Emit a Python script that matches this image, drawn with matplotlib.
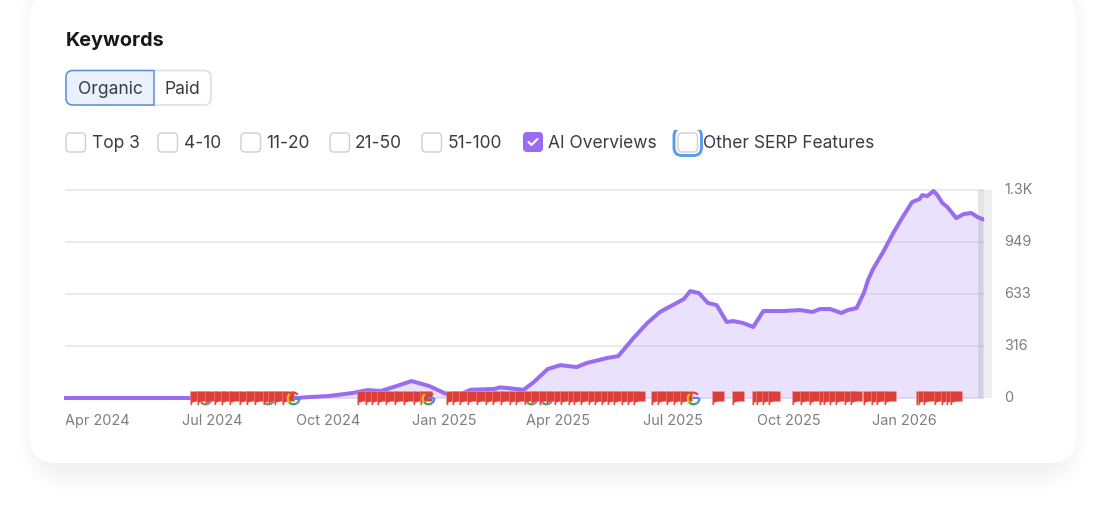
import numpy as np
import pandas as pd
import matplotlib
matplotlib.use('Agg')
import matplotlib.pyplot as plt
from matplotlib.patches import FancyBboxPatch, Rectangle
from matplotlib.path import Path
from matplotlib.transforms import Bbox, ScaledTranslation, TransformedBbox

plt.rcParams['font.family'] = ['Inter', 'DejaVu Sans']

W, H = 1106, 514

# AI Overviews keywords
dates = ['2024-03-07', '2024-09-08', '2024-09-10', '2024-10-01', '2024-10-20', '2024-11-01',
         '2024-11-12', '2024-11-25', '2024-12-06', '2024-12-20', '2025-01-01', '2025-01-08',
         '2025-01-22', '2025-02-10', '2025-02-14', '2025-03-05', '2025-03-13', '2025-03-24',
         '2025-04-03', '2025-04-16', '2025-04-24', '2025-05-10', '2025-05-19', '2025-05-31',
         '2025-06-11', '2025-06-21', '2025-07-10', '2025-07-15', '2025-07-22', '2025-07-29',
         '2025-08-05', '2025-08-13', '2025-08-18', '2025-08-26', '2025-09-03', '2025-09-11',
         '2025-09-27', '2025-10-10', '2025-10-20', '2025-10-26', '2025-11-03', '2025-11-12',
         '2025-11-17', '2025-11-24', '2025-11-30', '2025-12-03', '2025-12-07', '2025-12-15',
         '2025-12-23', '2025-12-29', '2026-01-07', '2026-01-13', '2026-01-15', '2026-01-19',
         '2026-01-24', '2026-01-27', '2026-01-31', '2026-02-04', '2026-02-11', '2026-02-17',
         '2026-02-23', '2026-02-28', '2026-03-04']
keywords = [0, 0, 3, 12, 30, 48,
            43, 75, 103, 73, 30, 5,
            50, 55, 65, 50, 97, 176,
            200, 188, 213, 243, 255, 365,
            456, 523, 602, 650, 638, 578,
            565, 462, 468, 456, 432, 529,
            529, 535, 523, 541, 541, 517,
            535, 547, 644, 717, 784, 888,
            1003, 1082, 1192, 1210, 1234, 1228,
            1259, 1234, 1186, 1161, 1094, 1119,
            1125, 1100, 1088]

flag_dates = ['2024-06-13', '2024-06-19', '2024-06-25', '2024-07-02', '2024-07-08', '2024-07-14',
              '2024-07-22', '2024-07-28', '2024-08-03', '2024-08-10', '2024-08-14', '2024-08-19',
              '2024-08-25',
              '2024-10-24', '2024-10-30', '2024-11-04', '2024-11-09', '2024-11-15', '2024-11-22',
              '2024-11-29', '2024-12-07', '2024-12-13',
              '2025-01-02', '2025-01-07', '2025-01-13', '2025-01-19', '2025-01-26', '2025-02-02',
              '2025-02-08', '2025-02-14', '2025-02-21', '2025-02-26', '2025-03-05', '2025-03-11',
              '2025-03-17', '2025-03-23', '2025-03-29', '2025-04-03', '2025-04-09', '2025-04-13',
              '2025-04-19', '2025-04-25', '2025-04-30', '2025-05-05', '2025-05-10', '2025-05-15',
              '2025-05-21', '2025-05-26', '2025-05-31', '2025-06-14', '2025-06-19', '2025-06-26',
              '2025-07-01', '2025-07-07', '2025-08-01', '2025-08-17', '2025-09-02', '2025-09-05',
              '2025-09-10', '2025-09-15', '2025-10-04', '2025-10-10', '2025-10-17', '2025-10-25',
              '2025-10-28', '2025-11-02', '2025-11-07', '2025-11-14', '2025-11-19', '2025-11-29',
              '2025-12-05', '2025-12-09', '2025-12-16', '2026-01-10', '2026-01-12', '2026-01-16',
              '2026-01-24', '2026-01-30', '2026-02-03', '2026-02-06']
google_under = ['2024-06-25', '2024-08-14', '2025-03-11', '2025-03-23']
google_top = ['2024-09-03', '2024-12-19', '2025-07-17']

xtick_dates = ['2024-04-01', '2024-07-01', '2024-10-01', '2025-01-01',
               '2025-04-01', '2025-07-01', '2025-10-01', '2026-01-01']
xtick_labels = ['Apr 2024', 'Jul 2024', 'Oct 2024', 'Jan 2025',
                'Apr 2025', 'Jul 2025', 'Oct 2025', 'Jan 2026']
ytick_values = [0, 316, 633, 949, 1265]
ytick_labels = ['0', '316', '633', '949', '1.3K']

filters = ['Top 3', '4-10', '11-20', '21-50', '51-100', 'AI Overviews', 'Other SERP Features']
filter_box_x = [66, 158, 241, 330, 422, 523, 678]
filter_text_x = [92, 184, 266, 355, 448, 548, 703]

PURPLE = '#9A6DF0'
TEXT = '#3b3c42'
GREY = '#7d7e84'


def rbox(ax, x0, y0, x1, y1, r, **kw):
    p = FancyBboxPatch((x0 + r, y0 + r), x1 - x0 - 2 * r, y1 - y0 - 2 * r,
                       boxstyle='round,pad=%g,rounding_size=%g' % (r, r), **kw)
    ax.add_patch(p)
    return p


def card_shadow():
    # blurred rounded rectangle, a bit inset and pushed down from the card
    px, py = np.meshgrid(np.arange(W) + 0.5, np.arange(H) + 0.5)
    r = 26
    qx = np.abs(px - 553) - (513 - r)
    qy = np.abs(py - 230) - (240 - r)
    d = np.hypot(np.maximum(qx, 0), np.maximum(qy, 0)) + np.minimum(np.maximum(qx, qy), 0) - r
    s = np.clip((30 - d) / 45, 0, 1)
    return 1 - 0.065 * s * s * (3 - 2 * s)


fig = plt.figure(figsize=(W / 100, H / 100), dpi=100, facecolor='white')

# page layer in pixel coordinates
ui = fig.add_axes([0, 0, 1, 1], zorder=0)
ui.imshow(card_shadow(), cmap='gray', vmin=0, vmax=1, extent=(0, W, H, 0), aspect='auto',
          interpolation='nearest')
ui.set_xlim(0, W)
ui.set_ylim(H, 0)
ui.axis('off')
rbox(ui, 30, -8, 1076, 463, 26, fc='white', ec='none')

ui.text(66, 41, 'Keywords', fontsize=14.3, fontweight='bold', color='#17181c', va='center')

# Organic / Paid switch
rbox(ui, 66, 70.5, 211, 105, 7, fc='white', ec='#dcdde0', lw=1.1)
org = rbox(ui, 66, 70.5, 180, 105, 7, fc='#E8F1FD', ec='#5C8FD6', lw=1.1)
org.set_clip_path(Rectangle((60, 60), 94, 60, transform=ui.transData))
ui.plot([154, 154], [70.5, 105], color='#5C8FD6', lw=1.1)
ui.text(110, 89, 'Organic', fontsize=12.6, color=TEXT, ha='center', va='center')
ui.text(182, 89, 'Paid', fontsize=12.6, color=TEXT, ha='center', va='center')

# filter checkboxes
for name, bx, tx in zip(filters, filter_box_x, filter_text_x):
    if name == 'AI Overviews':
        rbox(ui, bx, 132, bx + 20, 152, 4, fc='#9A6DF0', ec='none')
        ui.plot([bx + 5.5, bx + 8.5, bx + 14.5], [142, 145, 139], color='white', lw=1.5,
                solid_capstyle='round', solid_joinstyle='round')
    else:
        if name == 'Other SERP Features':
            ring = rbox(ui, bx - 4, 128, bx + 23.5, 155.5, 8, fc='white', ec='#5A9BEF', lw=2.1)
            ring.set_clip_path(Rectangle((bx - 10, 130), 40, 30, transform=ui.transData))
        rbox(ui, bx, 133, bx + 19.5, 152, 4, fc='white', ec='#d2d3d6', lw=1.1)
    ui.text(tx, 144, name, fontsize=12.5, color=TEXT, va='center')

# chart
ax = fig.add_axes([66 / W, (H - 398) / H, 918 / W, 208 / H], zorder=1)
ax.patch.set_alpha(0)
x = pd.to_datetime(dates)
ax.set_xlim(pd.Timestamp('2024-03-07'), pd.Timestamp('2026-03-05'))
ax.set_ylim(0, 1265)
for s in ax.spines.values():
    s.set_visible(False)

ax.yaxis.tick_right()
ax.set_yticks(ytick_values)
ax.set_yticklabels(ytick_labels, fontsize=10.4, color=GREY)
ax.set_xticks(pd.to_datetime(xtick_dates))
ax.set_xticklabels(xtick_labels, fontsize=10.4, color=GREY)
ax.tick_params(axis='both', length=0)
ax.tick_params(axis='y', pad=14.5)
ax.tick_params(axis='x', pad=11.5)
ax.grid(axis='y', color='#e6e6e9', lw=1.1, clip_on=False)
ax.set_axisbelow(True)

# y labels sit a touch above their grid lines
nudge = ScaledTranslation(0, 1.5 / 100, fig.dpi_scale_trans)
for lab in ax.get_yticklabels():
    lab.set_transform(lab.get_transform() + nudge)

ax.fill_between(x, keywords, 0, color='#A680F5', alpha=0.23, lw=0, zorder=2)
ax.plot(x, keywords, color=PURPLE, lw=2.9, clip_on=False, zorder=3, solid_joinstyle='round')

# google update icons, some of them sit behind the flags
arcs = [(Path.arc(130, 220), '#F2B91F'), (Path.arc(40, 130), '#E5483A'),
        (Path.arc(220, 310), '#3CA655'), (Path.arc(-50, 5), '#4A87EE'),
        (Path([(0, 0), (1, 0)]), '#4A87EE')]
for glist, z in [(google_under, 4), (google_top, 6)]:
    gx = pd.to_datetime(glist)
    for mk, col in arcs:
        ax.plot(gx, [0] * len(gx), ls='none', marker=mk, ms=8.5, mfc='none', mec=col, mew=1.6,
                clip_on=False, zorder=z)

# red annotation flags
flag = Path([(0, 7), (12, 7), (12, -3), (6, -3), (1.6, -4), (1.6, -6.5), (0, -6.5), (0, 7)], closed=True)
ax.plot(pd.to_datetime(flag_dates), [0] * len(flag_dates), ls='none', marker=flag, ms=17.3,
        mfc='#DF3D37', mec='#F0A89F', mew=0.3, clip_on=False, zorder=5)

# scroll handle at the right edge of the plot
fig.add_artist(Rectangle((978 / W, (H - 398) / H), 6 / W, 208 / H, transform=fig.transFigure,
                         fc='#8c8c99', ec='none', alpha=0.22, zorder=2))
fig.add_artist(Rectangle((984 / W, (H - 398) / H), 8 / W, 208 / H, transform=fig.transFigure,
                         fc='#ececee', ec='none', alpha=0.8, zorder=2))

# the first label is cut off by the plot edge
clip = TransformedBbox(Bbox([[66 / W, 0], [1, 1]]), fig.transFigure)
for lab in ax.get_xticklabels():
    lab.set_clip_box(clip)
    lab.set_clip_on(True)

fig.savefig('out.png', dpi=100)
